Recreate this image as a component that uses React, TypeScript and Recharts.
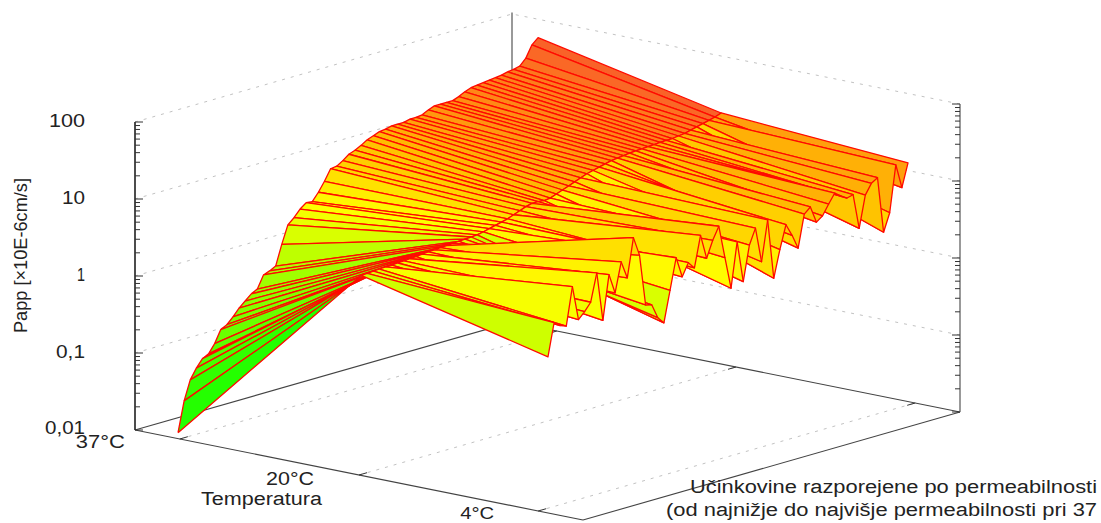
import React from 'react';
import { ScatterChart, Scatter, XAxis, YAxis } from 'recharts';

// Each value is log10(Papp / 0.01), one entry per drug, sorted by permeability at 37 C.
const log37 = [0.03,0.42,0.67,0.80,0.90,0.94,1.05,1.21,1.25,1.33,1.42,1.49,1.56,1.60,1.76,1.79,1.83,2.09,2.32,2.39,2.48,2.54,2.53,2.63,2.75,2.89,2.90,2.95,3.01,3.04,3.08,3.13,3.16,3.19,3.20,3.22,3.22,3.22,3.24,3.24,3.25,3.29,3.32,3.32,3.32,3.32,3.35,3.39,3.42,3.43,3.44,3.45,3.46,3.47,3.49,3.50,3.52,3.60,3.75,3.82];
const log20 = [2.55,2.555,2.56,2.565,2.57,2.57,2.575,2.58,2.585,2.59,2.60,2.605,2.61,2.615,2.62,2.625,2.63,2.635,2.64,2.645,2.66,2.68,2.70,2.72,2.74,2.77,2.80,2.83,2.85,2.85,2.84,2.85,2.88,2.91,2.94,2.97,3.00,3.03,3.05,3.07,3.09,3.11,3.12,3.13,3.14,3.145,3.15,3.155,3.16,3.165,3.17,3.17,3.18,3.19,3.21,3.23,3.25,3.27,3.29,3.32];
const log4 = [1.98,2.40,2.34,2.31,2.80,2.35,2.43,2.53,2.89,2.25,2.82,2.56,2.94,2.71,3.21,2.96,2.29,2.27,2.08,1.99,2.39,2.79,2.52,2.68,2.59,2.99,2.67,2.88,3.04,2.61,2.19,2.77,2.23,2.68,2.88,2.42,2.94,2.16,2.51,2.81,2.65,2.46,2.88,2.95,2.73,2.79,2.92,3.04,2.98,2.93,2.95,2.49,2.90,3.03,3.08,2.35,2.58,3.18,2.86,3.16];
const tempLabels = ['37°C', '20°C', '4°C'];
const tempTicks = [0.1, 0.5, 0.9];
const valueLabels = ['0,01', '0,1', '1', '10', '100'];
const xTitle = ['Učinkovine razporejene po permeabilnosti', '(od najnižje do najvišje permeabilnosti pri 37'];
const yTitle = 'Papp [×10E-6cm/s]';
const zTitle = 'Temperatura';

const W = 1101;
const H = 523;
const stripT = [0.0792, 0.488, 0.905];
const dOf = (i: number) => 0.02 + (0.955 / 59) * i;
const project = (t: number, d: number, z: number) => ({
  x: 135 + 448 * t + 377 * d,
  y: 430 + 90 * t - 108 * d - 77 * z,
});

const stops: [number, number, number, number][] = [
  [0.5, 0, 255, 0], [1.5, 40, 255, 0], [2.2, 170, 255, 0], [2.6, 255, 255, 0],
  [3.0, 255, 190, 0], [3.25, 255, 140, 20], [3.5, 250, 100, 40], [3.8, 245, 85, 40],
];
const colorOf = (z: number) => {
  if (z <= stops[0][0]) return 'rgb(0,255,0)';
  for (let k = 1; k < stops.length; k++) {
    if (z <= stops[k][0]) {
      const a = stops[k - 1], b = stops[k], f = (z - a[0]) / (b[0] - a[0]);
      return `rgb(${Math.round(a[1] + (b[1] - a[1]) * f)},${Math.round(a[2] + (b[2] - a[2]) * f)},${Math.round(a[3] + (b[3] - a[3]) * f)})`;
    }
  }
  return 'rgb(245,85,40)';
};

const series = [log37, log20, log4];
type Poly = { pts: { x: number; y: number }[]; fill: string };
const polys: Poly[] = [];
for (let i = log37.length - 2; i >= 0; i--) {
  for (let s = 0; s < 2; s++) {
    const a = series[s], b = series[s + 1];
    const mean = (a[i] + a[i + 1] + b[i] + b[i + 1]) / 4;
    const p0 = project(stripT[s], dOf(i), a[i]);
    polys.push({
      pts: [p0, project(stripT[s], dOf(i + 1), a[i + 1]), project(stripT[s + 1], dOf(i + 1), b[i + 1]), project(stripT[s + 1], dOf(i), b[i]), p0],
      fill: colorOf(mean),
    });
  }
}

const seg = (a: { x: number; y: number }, b: { x: number; y: number }) => [a, b];
const decades = [1, 2, 3, 4];
const grids: { x: number; y: number }[][] = [];
decades.forEach((z) => {
  grids.push([project(0, 0, z), project(0, 1, z), project(1, 1, z)]);
});
tempTicks.forEach((t) => grids.push(seg(project(t, 0, 0), project(t, 1, 0))));

const frame = [
  seg(project(0, 0, 0), project(1, 0, 0)),
  seg(project(1, 0, 0), project(1, 1, 0)),
  seg(project(0, 0, 0), project(0, 1, 0)),
  seg(project(0, 1, 0), project(1, 1, 0)),
];

const minors = [1, 2, 3, 4, 5, 6, 7, 8, 9];
const axisTicks: { x: number; y: number }[][] = [];
[0, 1, 2, 3].forEach((dec) => {
  minors.forEach((m) => {
    const z = dec + Math.log10(m);
    const len = m === 1 ? 8 : 5;
    const l = project(0, 0, z);
    axisTicks.push([l, { x: l.x + len, y: l.y }]);
    const r = project(1, 1, z);
    axisTicks.push([r, { x: r.x - len, y: r.y }]);
  });
});
const lt = project(0, 0, 4);
axisTicks.push([lt, { x: lt.x + 8, y: lt.y }]);
const rt = project(1, 1, 4);
axisTicks.push([rt, { x: rt.x - 8, y: rt.y }]);
tempTicks.forEach((t) => {
  const a = project(t, 0, 0);
  axisTicks.push([a, { x: a.x + 8, y: a.y - 2.3 }]);
  const b = project(t, 1, 0);
  axisTicks.push([b, { x: b.x - 8, y: b.y + 2.3 }]);
});

type Label = { x: number; y: number; text: string; width: number; size: number; rotate?: boolean };
const labels: Label[] = [
  ...valueLabels.map((text, k) => {
    const w = [40, 29, 8, 23, 36][k];
    return { x: 85 - w, y: project(0, 0, k).y - (k === 0 ? 2 : 1), text, width: w, size: 18 };
  }),
  ...tempLabels.map((text, k) => {
    const a = project(tempTicks[k], 0, 0);
    return { x: a.x + [-104, -93, -78][k], y: a.y + [3, 4, 2][k], text, width: [49, 48, 34][k], size: [18, 18, 17][k] };
  }),
  { x: 201, y: 499, text: zTitle, width: 121, size: 18 },
  { x: 690, y: 487, text: xTitle[0], width: 407, size: 18 },
  { x: 666, y: 510, text: xTitle[1], width: 431, size: 18 },
  { x: 21, y: 333, text: yTitle, width: 155, size: 18, rotate: true },
];

const TextMark = (p: any) => {
  const l: Label = p.payload;
  return (
    <text
      x={p.cx}
      y={p.cy}
      dominantBaseline="central"
      fontFamily="'Liberation Sans', Arial, sans-serif"
      fontSize={l.size}
      fill="#222"
      textLength={l.width}
      lengthAdjust="spacingAndGlyphs"
      transform={l.rotate ? `rotate(-90 ${p.cx} ${p.cy})` : undefined}
    >
      {l.text}
    </text>
  );
};

const Nothing = () => <g />;

export default function App() {
  const backTop = project(0, 1, 4.02);
  const backBottom = project(0, 1, 0);
  const rightTop = project(1, 1, 4);
  const rightBottom = project(1, 1, 0);
  const leftTop = project(0, 0, 4);
  const leftBottom = project(0, 0, 0);
  return (
    <div style={{ position: 'absolute', left: 0, top: 0, width: W, height: H, overflow: 'hidden', background: '#fff' }}>
      <ScatterChart width={W} height={H} margin={{ top: 0, right: 0, bottom: 0, left: 0 }}>
        <XAxis type="number" dataKey="x" domain={[0, W]} hide />
        <YAxis type="number" dataKey="y" domain={[0, H]} reversed hide />
        {grids.map((g, k) => (
          <Scatter key={`g${k}`} data={g} shape={Nothing} isAnimationActive={false}
            line={{ stroke: '#c2c2c2', strokeWidth: 1, strokeDasharray: '3 6', fill: 'none' }} />
        ))}
        {frame.map((g, k) => (
          <Scatter key={`f${k}`} data={g} shape={Nothing} isAnimationActive={false}
            line={{ stroke: '#444', strokeWidth: 1.1, fill: 'none' }} />
        ))}
        <Scatter data={[backTop, backBottom]} shape={Nothing} isAnimationActive={false}
          line={{ stroke: '#777', strokeWidth: 1.5, fill: 'none' }} />
        <Scatter data={[rightTop, rightBottom]} shape={Nothing} isAnimationActive={false}
          line={{ stroke: '#777', strokeWidth: 1.5, fill: 'none' }} />
        <Scatter data={[leftTop, leftBottom]} shape={Nothing} isAnimationActive={false}
          line={{ stroke: '#111', strokeWidth: 1.5, fill: 'none' }} />
        {axisTicks.map((g, k) => (
          <Scatter key={`t${k}`} data={g} shape={Nothing} isAnimationActive={false}
            line={{ stroke: '#333', strokeWidth: 1, fill: 'none' }} />
        ))}
        {polys.map((p, k) => (
          <Scatter key={`p${k}`} data={p.pts} shape={Nothing} isAnimationActive={false}
            line={{ stroke: '#ff0a00', strokeWidth: 1.3, fill: p.fill, strokeLinejoin: 'round' }} />
        ))}
        <Scatter data={labels} shape={TextMark} isAnimationActive={false} />
      </ScatterChart>
    </div>
  );
}
